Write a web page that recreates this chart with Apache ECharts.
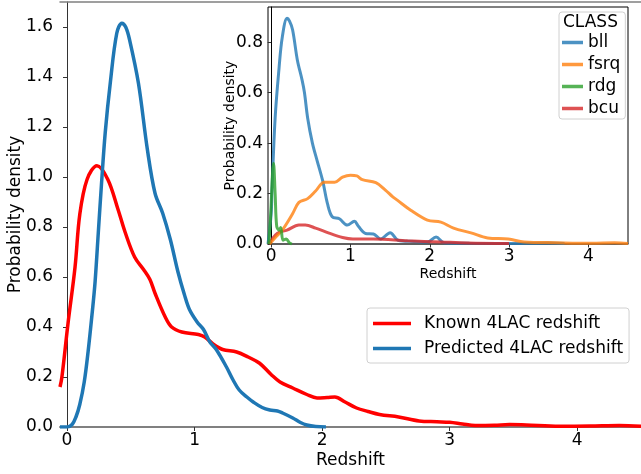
<!DOCTYPE html>
<html>
<head>
<meta charset="utf-8">
<script src="https://cdn.jsdelivr.net/npm/echarts@6/dist/echarts.min.js"></script>
<style>html,body{margin:0;padding:0;background:#fff}#c{width:641px;height:474px}</style>
</head>
<body>
<div id="c"></div>
<script>
// ---- Main chart data: [redshift, density]
var knownRedshift = [[-0.055,0.16],[-0.04,0.2],[0.008,0.415],[0.063,0.64],[0.1,0.85],[0.157,0.99],[0.235,1.045],[0.32,0.99],[0.4,0.87],[0.455,0.78],[0.53,0.68],[0.6,0.63],[0.65,0.59],[0.69,0.535],[0.77,0.44],[0.82,0.40],[0.9,0.38],[1.03,0.37],[1.08,0.36],[1.15,0.33],[1.22,0.31],[1.33,0.30],[1.42,0.28],[1.51,0.255],[1.6,0.21],[1.67,0.18],[1.77,0.156],[1.88,0.13],[1.96,0.116],[2.04,0.118],[2.1,0.12],[2.18,0.1],[2.27,0.076],[2.36,0.062],[2.45,0.05],[2.6,0.04],[2.76,0.024],[2.9,0.021],[3.0,0.019],[3.1,0.012],[3.2,0.006],[3.35,0.007],[3.47,0.01],[3.6,0.008],[3.86,0.003],[4.1,0.004],[4.33,0.006],[4.5,0.003]];
var predictedRedshift = [[-0.055,0],[0.0,0.0],[0.04,0.01],[0.07,0.04],[0.1,0.09],[0.135,0.18],[0.165,0.30],[0.2,0.47],[0.22,0.58],[0.245,0.775],[0.27,0.97],[0.3,1.18],[0.34,1.38],[0.39,1.575],[0.43,1.615],[0.46,1.6],[0.49,1.55],[0.56,1.375],[0.63,1.11],[0.69,0.935],[0.75,0.855],[0.81,0.75],[0.87,0.62],[0.92,0.53],[0.96,0.47],[1.02,0.42],[1.07,0.39],[1.12,0.34],[1.17,0.31],[1.25,0.24],[1.3,0.19],[1.35,0.148],[1.41,0.12],[1.46,0.10],[1.53,0.078],[1.59,0.068],[1.65,0.064],[1.69,0.056],[1.77,0.036],[1.83,0.018],[1.88,0.008],[1.95,0.002],[2.03,0]];

// ---- Inset data by CLASS
var bll = [[-0.04,0.0],[0.0,0.12],[0.01,0.21],[0.05,0.50],[0.1,0.70],[0.14,0.82],[0.2,0.895],[0.23,0.885],[0.27,0.85],[0.33,0.73],[0.39,0.65],[0.42,0.6],[0.46,0.50],[0.52,0.40],[0.58,0.33],[0.65,0.25],[0.71,0.16],[0.77,0.108],[0.86,0.10],[0.96,0.075],[1.05,0.09],[1.1,0.07],[1.19,0.042],[1.29,0.04],[1.38,0.02],[1.5,0.045],[1.6,0.015],[1.8,0.01],[1.97,0.008],[2.08,0.028],[2.18,0.005],[2.5,0.003],[3.0,0.002],[3.5,0.004],[3.7,0.002]];
var fsrq = [[-0.02,0.0],[0.05,0.025],[0.14,0.055],[0.27,0.12],[0.35,0.165],[0.46,0.18],[0.56,0.21],[0.67,0.245],[0.8,0.245],[0.9,0.265],[1.0,0.273],[1.08,0.27],[1.15,0.255],[1.32,0.243],[1.44,0.214],[1.53,0.188],[1.59,0.174],[1.76,0.134],[1.97,0.095],[2.14,0.087],[2.3,0.063],[2.52,0.044],[2.73,0.024],[2.99,0.02],[3.19,0.008],[3.6,0.005],[4.04,0.003],[4.33,0.005],[4.5,0.002]];
var rdg = [[-0.03,0.0],[-0.01,0.095],[0.03,0.32],[0.05,0.2],[0.07,0.07],[0.1,0.055],[0.12,0.065],[0.15,0.015],[0.19,0.02],[0.23,0.005],[0.26,0.0]];
var bcu = [[-0.03,0.0],[0.08,0.043],[0.2,0.055],[0.35,0.075],[0.43,0.075],[0.56,0.063],[0.73,0.043],[0.9,0.026],[1.03,0.02],[1.29,0.02],[1.72,0.013],[2.14,0.008],[2.48,0.004],[3.0,0.002]];

var xTicks = [0,1,2,3,4];
var mainYTicks = [0,0.2,0.4,0.6,0.8,1.0,1.2,1.4,1.6];
var insetYTicks = [0,0.2,0.4,0.6,0.8];

var FONT = 'DejaVu Sans';
var chart = echarts.init(document.getElementById('c'), null, {renderer:'canvas'});

function line(name, data, color, width, xi, yi, z, opacity){
  return {name:name, type:'line', data:data, xAxisIndex:xi, yAxisIndex:yi, showSymbol:false, symbol:'none',
    smooth:0.35, z:z, clip:true,
    lineStyle:{color:color, width:width, opacity:opacity},
    itemStyle:{color:color, opacity:opacity}, animation:false};
}

var option = {
  animation:false,
  textStyle:{fontFamily:FONT},
  title:{text:'CLASS', left:563, top:14, padding:0, z:30,
    textStyle:{fontFamily:FONT, fontSize:17, fontWeight:'normal', color:'#000'}},
  grid:[
    {left:60, top:2, right:0, bottom:47, z:2, containLabel:false, outerBoundsMode:'none'},
    {left:268, top:7, right:13, bottom:230, show:true, backgroundColor:'#fff', borderColor:'#000', borderWidth:1, z:10, containLabel:false, outerBoundsMode:'none'}
  ],
  xAxis:[
    {type:'value', gridIndex:0, min:-0.055, max:4.5, position:'bottom',
     name:'Redshift', nameLocation:'middle', nameGap:25, nameMoveOverlap:false,
     nameTextStyle:{fontFamily:FONT, fontSize:17, color:'#000'},
     axisLine:{show:true, lineStyle:{color:'#808080', width:2}},
     axisTick:{show:true, length:4, customValues:xTicks, lineStyle:{color:'#333'}},
     axisLabel:{customValues:xTicks, margin:5, fontFamily:FONT, fontSize:17, color:'#000'},
     splitLine:{show:false}},
    {type:'value', gridIndex:0, min:-0.055, max:4.5, position:'top',
     axisLine:{show:true, lineStyle:{color:'#808080', width:1.5}},
     axisTick:{show:false}, axisLabel:{show:false}, splitLine:{show:false}},
    {type:'value', gridIndex:1, min:-0.04, max:4.5, position:'bottom', z:12,
     name:'Redshift', nameLocation:'middle', nameGap:23, nameMoveOverlap:false,
     nameTextStyle:{fontFamily:FONT, fontSize:14, color:'#000'},
     axisLine:{show:true, lineStyle:{color:'#555', width:1.5}},
     axisTick:{show:true, length:3.5, customValues:xTicks, lineStyle:{color:'#333'}},
     axisLabel:{customValues:xTicks, margin:4, fontFamily:FONT, fontSize:17, color:'#000'},
     splitLine:{show:false}}
  ],
  yAxis:[
    {type:'value', gridIndex:0, min:0, max:1.7,
     name:'Probability density', nameLocation:'middle', nameGap:36, nameMoveOverlap:false,
     nameTextStyle:{fontFamily:FONT, fontSize:17, color:'#000'},
     axisLine:{show:true, lineStyle:{color:'#333', width:1}},
     axisTick:{show:true, length:4, customValues:mainYTicks, lineStyle:{color:'#333'}},
     axisLabel:{customValues:mainYTicks, margin:7, fontFamily:FONT, fontSize:17, color:'#000',
       formatter:function(v){return v.toFixed(1);}},
     splitLine:{show:false}},
    {type:'value', gridIndex:1, min:0, max:0.94, z:12,
     name:'Probability density', nameLocation:'middle', nameGap:31, nameMoveOverlap:false,
     nameTextStyle:{fontFamily:FONT, fontSize:14, color:'#000'},
     axisLine:{show:true, lineStyle:{color:'#000', width:1}},
     axisTick:{show:true, length:3.5, customValues:insetYTicks, lineStyle:{color:'#333'}},
     axisLabel:{customValues:insetYTicks, margin:5, fontFamily:FONT, fontSize:17, color:'#000',
       formatter:function(v){return v.toFixed(1);}},
     splitLine:{show:false}}
  ],
  legend:[
    {data:['Known 4LAC redshift','Predicted 4LAC redshift'], orient:'vertical', left:367, top:308,
     padding:[7,6,6,6], itemGap:8, itemWidth:38, itemHeight:3.5, icon:'rect',
     backgroundColor:'rgba(255,255,255,0.8)', borderColor:'#d0d0d0', borderWidth:1, borderRadius:3, z:20,
     textStyle:{fontFamily:FONT, fontSize:17, color:'#000', lineHeight:17, padding:[0,0,0,8]}},
    {data:['bll','fsrq','rdg','bcu'], orient:'vertical', left:559, top:12,
     padding:[22,5,2,3], itemGap:5, itemWidth:21, itemHeight:3.5, icon:'rect',
     backgroundColor:'rgba(255,255,255,0.8)', borderColor:'#d0d0d0', borderWidth:1, borderRadius:3, z:25,
     textStyle:{fontFamily:FONT, fontSize:17, color:'#000', lineHeight:17}}
  ],
  series:[
    line('Known 4LAC redshift', knownRedshift, '#ff0000', 3.5, 0, 0, 3, 1),
    line('Predicted 4LAC redshift', predictedRedshift, '#1f77b4', 3.5, 0, 0, 4, 1),
    line('bll', bll, '#1f77b4', 3, 2, 1, 13, 0.8),
    line('fsrq', fsrq, '#ff7f0e', 3, 2, 1, 14, 0.8),
    line('rdg', rdg, '#2ca02c', 3, 2, 1, 15, 0.8),
    line('bcu', bcu, '#d62728', 3, 2, 1, 13, 0.8)
  ]
};
chart.setOption(option);
</script>
</body>
</html>
